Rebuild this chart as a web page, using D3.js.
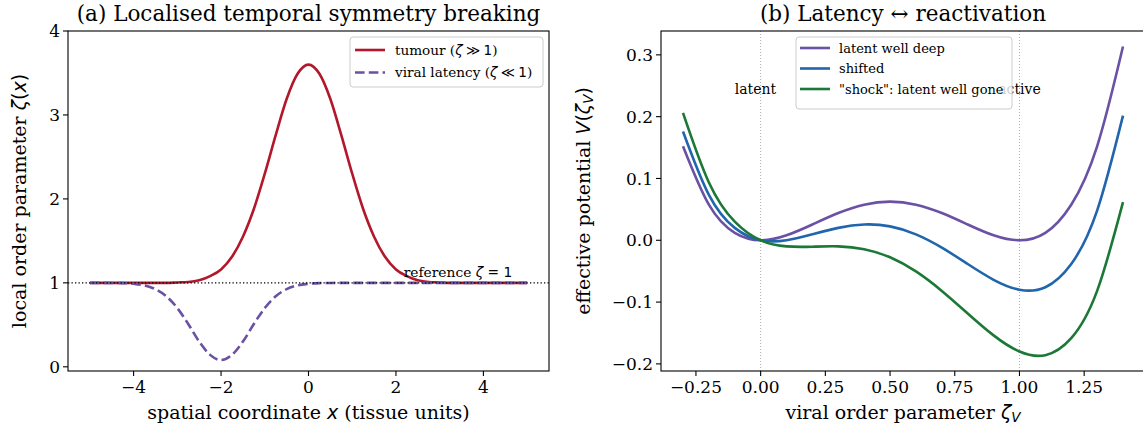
<!DOCTYPE html>
<html><head><meta charset="utf-8">
<script src="https://cdn.jsdelivr.net/npm/d3@7"></script>
<style>
body{margin:0;background:#fff;}
.m{font-family:"DejaVu Sans",sans-serif;font-style:italic;}
.mu{font-family:"DejaVu Sans",sans-serif;font-style:normal;}
</style></head><body>
<svg id="fig" width="1143" height="429"></svg>
<script>
// ---------- Panel (a) data ----------
const xPos = d3.range(-5, 5.0001, 0.25).map(v => +v.toFixed(2));
const tumour = [1.00,1.00,1.00,1.00,1.00,1.00,1.00,1.00,1.005,1.01,1.03,1.08,1.16,1.31,1.55,1.88,2.30,2.76,3.19,3.49,3.60,
                3.49,3.19,2.76,2.30,1.88,1.55,1.31,1.16,1.08,1.03,1.01,1.005,1.00,1.00,1.00,1.00,1.00,1.00,1.00,1.00];
const viral  = [1.00,1.00,0.999,0.997,0.989,0.97,0.925,0.84,0.70,0.51,0.30,0.142,0.08,0.142,0.30,0.51,0.70,0.84,0.925,0.97,0.989,
                0.997,0.999,1.00,1.00,1.00,1.00,1.00,1.00,1.00,1.00,1.00,1.00,1.00,1.00,1.00,1.00,1.00,1.00,1.00,1.00];
const aXTicks = [-4,-2,0,2,4];
const aYTicks = [0,1,2,3,4];

// ---------- Panel (b) data ----------
const zeta = [-0.3,-0.2,-0.1,0,0.1,0.2,0.3,0.4,0.5,0.6,0.7,0.8,0.9,1.0,1.1,1.2,1.3,1.4];
const wellDeep = [0.1521,0.0576,0.0121,0,0.0081,0.0256,0.0441,0.0576,0.0625,0.0576,0.0441,0.0256,0.0081,0,0.0121,0.0576,0.1521,0.3136];
const shifted  = [0.1761,0.0736,0.0201,0,0.0001,0.0096,0.0201,0.0256,0.0225,0.0096,-0.0119,-0.0384,-0.0639,-0.08,-0.0759,-0.0384,0.0481,0.2016];
const shock    = [0.2061,0.0936,0.0301,0,-0.0099,-0.0104,-0.0099,-0.0144,-0.0275,-0.0504,-0.0819,-0.1184,-0.1539,-0.18,-0.1859,-0.1584,-0.0819,0.0616];
const bXTicks = [-0.25,0,0.25,0.5,0.75,1.0,1.25];
const bYTicks = [-0.2,-0.1,0,0.1,0.2,0.3];

const SERIF = "'DejaVu Serif', serif";
const svg = d3.select("#fig");
const axTop = 31, axBottom = 371;
const fmtMinus = s => s.replace("-", "\u2212");
const T = (g, size) => g.append("text").attr("font-family", SERIF).attr("font-size", size).attr("fill", "#000");

function drawAxes(g, x, y, xt, yt, xf, yf) {
  const [x0] = x.range();
  xt.forEach(t => {
    g.append("line").attr("x1", x(t)).attr("x2", x(t)).attr("y1", axBottom).attr("y2", axBottom + 5)
      .attr("stroke", "#000").attr("stroke-width", 1.1);
    T(g, 17).attr("x", x(t)).attr("y", axBottom + 22).attr("text-anchor", "middle").text(fmtMinus(xf(t)));
  });
  yt.forEach(t => {
    g.append("line").attr("x1", x0 - 5).attr("x2", x0).attr("y1", y(t)).attr("y2", y(t))
      .attr("stroke", "#000").attr("stroke-width", 1.1);
    T(g, 17).attr("x", x0 - 8).attr("y", y(t)).attr("dy", "0.36em").attr("text-anchor", "end").text(fmtMinus(yf(t)));
  });
}
function frame(g, x) {
  const [x0, x1] = x.range();
  g.append("rect").attr("x", x0).attr("y", axTop).attr("width", x1 - x0).attr("height", axBottom - axTop)
    .attr("fill", "none").attr("stroke", "#000").attr("stroke-width", 1.1);
}

// ================= Panel (a) =================
{
  const g = svg.append("g");
  const x = d3.scaleLinear().domain([-5.5, 5.5]).range([68, 549]);
  const y = d3.scaleLinear().domain([-0.05, 4]).range([axBottom, axTop]);
  const line = d3.line().x((d, i) => x(xPos[i])).y(d => y(d)).curve(d3.curveMonotoneX);
  g.append("path").datum(tumour).attr("d", line).attr("fill", "none").attr("stroke", "#b2182b").attr("stroke-width", 2.6);
  g.append("path").datum(viral).attr("d", line).attr("fill", "none").attr("stroke", "#6a51a3").attr("stroke-width", 2.6)
    .attr("stroke-dasharray", "9.6,4.2");
  g.append("line").attr("x1", x.range()[0]).attr("x2", x.range()[1]).attr("y1", y(1)).attr("y2", y(1))
    .attr("stroke", "#000").attr("stroke-width", 1.3).attr("stroke-dasharray", "1.3,2.2");
  const rt = T(g, 13.8).attr("x", x(3.42)).attr("y", y(1) - 6).attr("text-anchor", "middle");
  rt.append("tspan").text("reference ");
  rt.append("tspan").attr("class", "m").text("ζ");
  rt.append("tspan").attr("class", "mu").text(" = 1");
  drawAxes(g, x, y, aXTicks, aYTicks, d3.format("d"), d3.format("d"));
  frame(g, x);
  T(g, 21.5).attr("x", 308.5).attr("y", 21).attr("text-anchor", "middle")
    .text("(a) Localised temporal symmetry breaking");
  const xl = T(g, 19).attr("x", 308.5).attr("y", 419).attr("text-anchor", "middle");
  xl.append("tspan").text("spatial coordinate ");
  xl.append("tspan").attr("class", "m").text("x");
  xl.append("tspan").text(" (tissue units)");
  const yl = T(g, 19).attr("transform", `translate(26,${(axTop + axBottom) / 2}) rotate(-90)`)
    .attr("text-anchor", "middle");
  yl.append("tspan").text("local order parameter ");
  yl.append("tspan").attr("class", "m").text("ζ");
  yl.append("tspan").attr("class", "mu").text("(");
  yl.append("tspan").attr("class", "m").text("x");
  yl.append("tspan").attr("class", "mu").text(")");
  const lg = g.append("g");
  lg.append("rect").attr("x", 350).attr("y", 37).attr("width", 193).attr("height", 50).attr("rx", 3)
    .attr("fill", "#fff").attr("fill-opacity", 0.8).attr("stroke", "#ccc").attr("stroke-width", 1);
  const items = [
    {c: "#b2182b", dash: null, pre: "tumour (", sym: "≫"},
    {c: "#6a51a3", dash: "9.6,4.2", pre: "viral latency (", sym: "≪"}
  ];
  items.forEach((it, i) => {
    const yy = 50 + i * 22.5;
    lg.append("line").attr("x1", 355).attr("x2", 385).attr("y1", yy).attr("y2", yy)
      .attr("stroke", it.c).attr("stroke-width", 2.6).attr("stroke-dasharray", it.dash);
    const t = T(lg, 13.6).attr("x", 395).attr("y", yy).attr("dy", "0.36em");
    t.append("tspan").text(it.pre);
    t.append("tspan").attr("class", "m").text("ζ");
    t.append("tspan").attr("class", "mu").text("\u2005" + it.sym + "\u20051");
    t.append("tspan").text(")");
  });
}

// ================= Panel (b) =================
{
  const g = svg.append("g");
  const x = d3.scaleLinear().domain([-0.385, 1.485]).range([661, 1145]);
  const y = d3.scaleLinear().domain([-0.2115, 0.3386]).range([axBottom, axTop]);
  [0, 1].forEach(v => {
    g.append("line").attr("x1", x(v)).attr("x2", x(v)).attr("y1", axTop).attr("y2", axBottom)
      .attr("stroke", "#aaa").attr("stroke-width", 1).attr("stroke-dasharray", "1,2");
  });
  const line = d3.line().x((d, i) => x(zeta[i])).y(d => y(d)).curve(d3.curveNatural);
  const series = [
    {v: wellDeep, c: "#6a51a3", n: "latent well deep"},
    {v: shifted, c: "#2166ac", n: "shifted"},
    {v: shock, c: "#1b7837", n: "\"shock\": latent well gone"}
  ];
  series.forEach(s => {
    g.append("path").datum(s.v).attr("d", line).attr("fill", "none").attr("stroke", s.c).attr("stroke-width", 2.6);
  });
  T(g, 14).attr("x", x(-0.02)).attr("y", y(0.245)).attr("dy", "0.36em").attr("text-anchor", "middle").text("latent");
  T(g, 14).attr("x", x(1.0)).attr("y", y(0.245)).attr("dy", "0.36em").attr("text-anchor", "middle").text("active");
  drawAxes(g, x, y, bXTicks, bYTicks, d3.format(".2f"), d3.format(".1f"));
  frame(g, x);
  T(g, 21.5).attr("x", 903).attr("y", 21).attr("text-anchor", "middle").text("(b) Latency \u2194 reactivation");
  const xl = T(g, 19).attr("x", 903).attr("y", 419).attr("text-anchor", "middle");
  xl.append("tspan").text("viral order parameter ");
  xl.append("tspan").attr("class", "m").text("ζ");
  xl.append("tspan").attr("class", "m").attr("font-size", 13.5).attr("dy", 3).text("V");
  const yl = T(g, 19).attr("transform", `translate(590,${(axTop + axBottom) / 2}) rotate(-90)`)
    .attr("text-anchor", "middle");
  yl.append("tspan").text("effective potential ");
  yl.append("tspan").attr("class", "m").text("V");
  yl.append("tspan").attr("class", "mu").text("(");
  yl.append("tspan").attr("class", "m").text("ζ");
  yl.append("tspan").attr("class", "m").attr("font-size", 13.5).attr("dy", 3).text("V");
  yl.append("tspan").attr("class", "mu").attr("dy", -3).text(")");
  const lg = g.append("g");
  lg.append("rect").attr("x", 796).attr("y", 37).attr("width", 216).attr("height", 72).attr("rx", 3)
    .attr("fill", "#fff").attr("fill-opacity", 0.8).attr("stroke", "#ccc").attr("stroke-width", 1);
  series.forEach((s, i) => {
    const yy = 48 + i * 20.5;
    lg.append("line").attr("x1", 800).attr("x2", 830).attr("y1", yy).attr("y2", yy)
      .attr("stroke", s.c).attr("stroke-width", 2.6);
    T(lg, 13).attr("x", 839).attr("y", yy).attr("dy", "0.36em").text(s.n);
  });
}
</script></body></html>
